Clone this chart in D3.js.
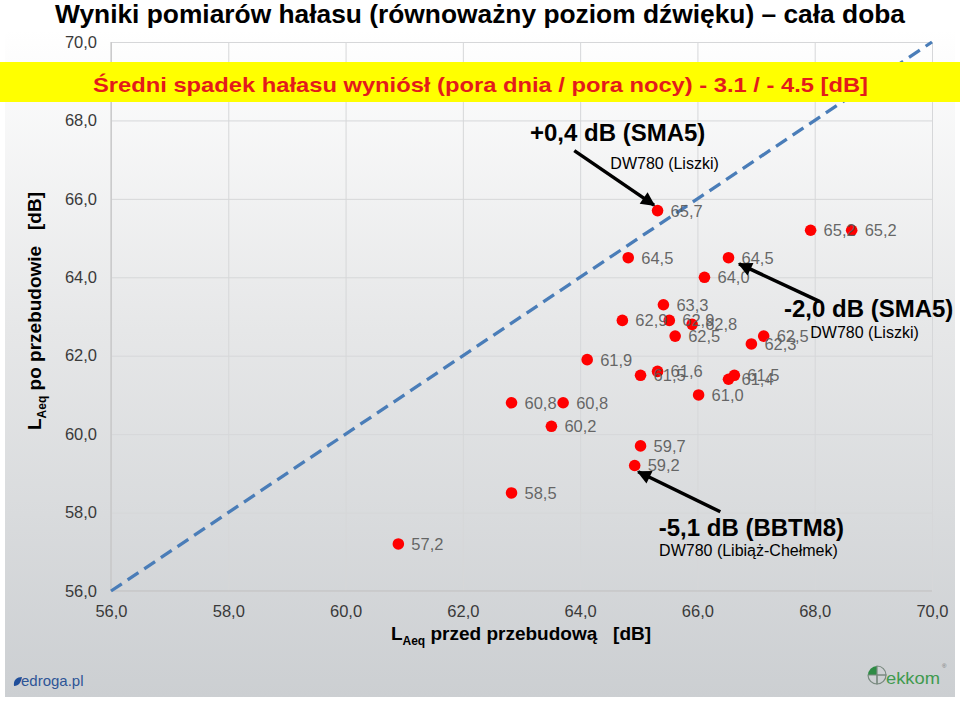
<!DOCTYPE html>
<html>
<head>
<meta charset="utf-8">
<script src="https://cdn.jsdelivr.net/npm/d3@7"></script>
<style>
body { margin: 0; background: #fff; }
text { font-family: Arial, "Liberation Sans", sans-serif; }
</style>
</head>
<body>
<div class="chart"></div>
<script>
// pomiary: LAeq przed (x) i po (y) przebudowie
var xBefore = [60.9, 62.83, 62.83, 63.71, 63.51, 64.12, 65.03, 64.93, 65.03, 65.32, 64.72, 65.42, 65.52,
               65.91, 65.62, 64.82, 65.32, 66.12, 66.53, 66.02, 66.53, 66.63, 66.92, 67.13, 67.93, 68.63];
var yAfter  = [57.2, 58.5, 60.8, 60.8, 60.2, 61.9, 59.7, 59.2, 61.5, 61.6, 62.9, 63.3, 62.9,
               62.8, 62.5, 64.5, 65.7, 64.0, 64.5, 61.0, 61.4, 61.5, 62.3, 62.5, 65.2, 65.2];
var tickValues = [56, 58, 60, 62, 64, 66, 68, 70];
var diagonal = [56, 70];

var titleText = "Wyniki pomiarów hałasu (równoważny poziom dźwięku) – cała doba";
var bannerText = "Średni spadek hałasu wyniósł (pora dnia / pora nocy) - 3.1 / - 4.5 [dB]";
var noteBig = ["+0,4 dB (SMA5)", "-2,0 dB (SMA5)", "-5,1 dB (BBTM8)"];
var noteSmall = ["DW780 (Liszki)", "DW780 (Liszki)", "DW780 (Libiąż-Chełmek)"];

var options = { width: 960, height: 701 };

// polozenie opisow i strzalek w jednostkach osi
var notePos = [
    { big: [64.64, 67.48], small: [65.44, 66.76], from: [63.90, 67.23], to: [65.26, 65.84] },
    { big: [68.92, 62.99], small: [68.85, 62.45], from: [68.09, 63.38], to: [66.71, 64.34] },
    { big: [66.92, 57.40], small: [66.87, 56.89], from: [66.39, 58.02], to: [64.99, 59.04] }
];

var fmt = function (v) { return d3.format(".1f")(v).replace(".", ","); };

var svg = d3.select(".chart").append("svg")
    .attr("width", options.width)
    .attr("height", options.height);

var defs = svg.append("defs");
var grad = defs.append("linearGradient").attr("id", "bg")
    .attr("x1", 0).attr("y1", 0).attr("x2", 0).attr("y2", 1);
grad.append("stop").attr("offset", "0%").attr("stop-color", "#ffffff");
grad.append("stop").attr("offset", "45%").attr("stop-color", "#e6e7e8");
grad.append("stop").attr("offset", "100%").attr("stop-color", "#cccfd2");

defs.append("marker").attr("id", "head")
    .attr("viewBox", "0 0 10 10").attr("refX", 9).attr("refY", 5)
    .attr("markerWidth", 16).attr("markerHeight", 14)
    .attr("markerUnits", "userSpaceOnUse")
    .attr("orient", "auto")
    .append("path").attr("d", "M0,0 L10,5 L0,10 Z").attr("fill", "#000");

svg.append("rect")
    .attr("x", 5).attr("y", 30).attr("width", 950).attr("height", 667)
    .attr("fill", "url(#bg)");

var xScale = d3.scaleLinear().domain([56, 70]).range([111, 932]);
var yScale = d3.scaleLinear().domain([56, 70]).range([591, 42]);

// siatka
svg.append("g")
    .attr("class", "grid")
    .attr("transform", "translate(0," + yScale(56) + ")")
    .call(d3.axisBottom(xScale).tickValues(tickValues).tickSize(-(yScale(56) - yScale(70))).tickFormat(""));
svg.append("g")
    .attr("class", "grid")
    .attr("transform", "translate(" + xScale(56) + ",0)")
    .call(d3.axisLeft(yScale).tickValues(tickValues).tickSize(-(xScale(70) - xScale(56))).tickFormat(""));
svg.selectAll(".grid .domain").remove();
svg.selectAll(".grid line").attr("stroke", "#d6d7d9").attr("stroke-width", 1);

svg.append("line")
    .attr("x1", xScale(56)).attr("x2", xScale(70))
    .attr("y1", yScale(56)).attr("y2", yScale(56))
    .attr("stroke", "#bfbfbf");
svg.append("line")
    .attr("x1", xScale(56)).attr("x2", xScale(56))
    .attr("y1", yScale(56)).attr("y2", yScale(70))
    .attr("stroke", "#bfbfbf");

// opisy osi
var xAxis = svg.append("g")
    .attr("class", "x axis")
    .attr("transform", "translate(0," + yScale(56) + ")")
    .call(d3.axisBottom(xScale).tickValues(tickValues).tickSize(0).tickPadding(14).tickFormat(fmt));
var yAxis = svg.append("g")
    .attr("class", "y axis")
    .attr("transform", "translate(" + xScale(56) + ",0)")
    .call(d3.axisLeft(yScale).tickValues(tickValues).tickSize(0).tickPadding(14).tickFormat(fmt));
svg.selectAll(".axis .domain").remove();
svg.selectAll(".axis text")
    .attr("font-family", "Arial, 'Liberation Sans', sans-serif")
    .attr("font-size", "16.5px")
    .attr("fill", "#3a3a3a");

// przekatna y = x
svg.append("line")
    .attr("x1", xScale(diagonal[0])).attr("y1", yScale(diagonal[0]))
    .attr("x2", xScale(diagonal[1])).attr("y2", yScale(diagonal[1]))
    .attr("stroke", "#4a7db8")
    .attr("stroke-width", 3.3)
    .attr("stroke-dasharray", "13,7");

// punkty
var data = xBefore.map(function (x, i) { return { x: x, y: yAfter[i] }; });

svg.selectAll("circle.pt").data(data).enter().append("circle")
    .attr("class", "pt")
    .attr("cx", function (d) { return xScale(d.x); })
    .attr("cy", function (d) { return yScale(d.y); })
    .attr("r", 5.8)
    .attr("fill", "#ff0000");

svg.selectAll("text.lbl").data(data).enter().append("text")
    .attr("class", "lbl")
    .attr("x", function (d) { return xScale(d.x) + 13; })
    .attr("y", function (d) { return yScale(d.y); })
    .attr("dy", "0.36em")
    .attr("font-size", "16.5px")
    .attr("fill", "#595959")
    .attr("fill-opacity", 0.92)
    .text(function (d) { return fmt(d.y); });

// tytul
svg.append("text")
    .attr("x", 55).attr("y", 23)
    .attr("font-size", "26px").attr("font-weight", "bold")
    .attr("fill", "#000")
    .attr("textLength", 850).attr("lengthAdjust", "spacingAndGlyphs")
    .text(titleText);

// zolty pasek
svg.append("rect")
    .attr("x", 0).attr("y", 62).attr("width", options.width).attr("height", 40)
    .attr("fill", "#ffff00");
svg.append("text")
    .attr("x", 93).attr("y", 92)
    .attr("font-size", "21px").attr("font-weight", "bold")
    .attr("fill", "#e31b1b")
    .attr("textLength", 775).attr("lengthAdjust", "spacingAndGlyphs")
    .text(bannerText);

// tytuly osi
var yTitle = svg.append("text")
    .attr("transform", "translate(41,311) rotate(-90)")
    .attr("text-anchor", "middle")
    .attr("font-size", "19px").attr("font-weight", "bold")
    .style("white-space", "pre")
    .attr("fill", "#000");
yTitle.append("tspan").text("L");
yTitle.append("tspan").attr("font-size", "12px").attr("dy", 5).text("Aeq");
yTitle.append("tspan").attr("dy", -5).text(" po przebudowie   [dB]");

var xTitle = svg.append("text")
    .attr("x", 521).attr("y", 640)
    .attr("text-anchor", "middle")
    .attr("font-size", "19px").attr("font-weight", "bold")
    .style("white-space", "pre")
    .attr("fill", "#000");
xTitle.append("tspan").text("L");
xTitle.append("tspan").attr("font-size", "12px").attr("dy", 5).text("Aeq");
xTitle.append("tspan").attr("dy", -5).text(" przed przebudową   [dB]");

// adnotacje
notePos.forEach(function (p, i) {
    svg.append("line")
        .attr("x1", xScale(p.from[0])).attr("y1", yScale(p.from[1]))
        .attr("x2", xScale(p.to[0])).attr("y2", yScale(p.to[1]))
        .attr("stroke", "#000").attr("stroke-width", 3.5)
        .attr("marker-end", "url(#head)");
    svg.append("text")
        .attr("x", xScale(p.big[0])).attr("y", yScale(p.big[1]))
        .attr("text-anchor", "middle")
        .attr("font-size", "24px").attr("font-weight", "bold")
        .attr("fill", "#000")
        .text(noteBig[i]);
    svg.append("text")
        .attr("x", xScale(p.small[0])).attr("y", yScale(p.small[1]))
        .attr("text-anchor", "middle")
        .attr("font-size", "16px")
        .attr("fill", "#000")
        .text(noteSmall[i]);
});

// logotypy
svg.append("path")
    .attr("d", "M14,686 C13,680 17,677 22,677 C21,682 19,686 14,686 Z")
    .attr("fill", "#1f4e9a");
svg.append("text")
    .attr("x", 21).attr("y", 686)
    .attr("font-size", "15px")
    .attr("fill", "#2d5597")
    .text("edroga.pl");

var cx = 877, cy = 675, r = 9;
svg.append("path")
    .attr("d", "M" + cx + "," + cy + " L" + (cx - r) + "," + cy + " A" + r + "," + r + " 0 0 1 " + cx + "," + (cy - r) + " Z")
    .attr("fill", "#2e8b45");
[[1, -1], [-1, 1], [1, 1]].forEach(function (s) {
    svg.append("path")
        .attr("d", "M" + cx + "," + cy + " L" + (cx + s[0] * r) + "," + cy +
            " A" + r + "," + r + " 0 0 " + (s[0] * s[1] > 0 ? 1 : 0) + " " + cx + "," + (cy + s[1] * r) + " Z")
        .attr("fill", "none").attr("stroke", "#7a8a80").attr("stroke-width", 1.2);
});
svg.append("text")
    .attr("x", 886).attr("y", 684)
    .attr("font-size", "17px")
    .attr("fill", "#3f9a4f")
    .attr("textLength", 54).attr("lengthAdjust", "spacingAndGlyphs")
    .text("ekkom");
svg.append("text")
    .attr("x", 942).attr("y", 668)
    .attr("font-size", "6px")
    .attr("fill", "#777")
    .text("®");
</script>
</body>
</html>
